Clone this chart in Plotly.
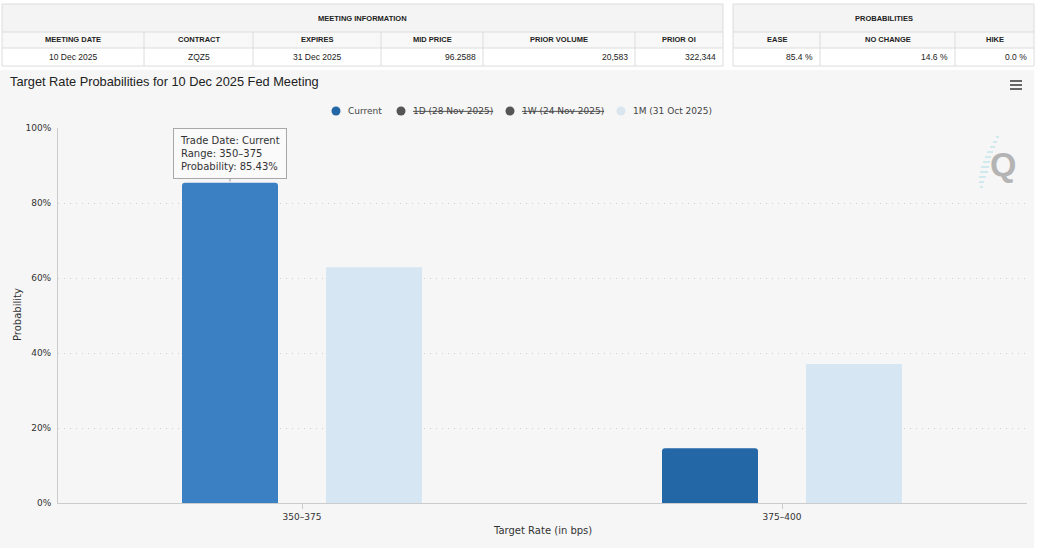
import plotly.graph_objects as go

W, H = 1050, 549

# ---------------- data ----------------
categories = ["350–375", "375–400"]
current_vals = [85.43, 14.57]
month_vals = [62.9, 37.1]
legend_names = ["Current", "1D (28 Nov 2025)", "1W (24 Nov 2025)", "1M (31 Oct 2025)"]
legend_hidden = [False, True, True, False]

meeting_title = "MEETING INFORMATION"
meeting_cols = ["MEETING DATE", "CONTRACT", "EXPIRES", "MID PRICE", "PRIOR VOLUME", "PRIOR OI"]
meeting_vals = ["10 Dec 2025", "ZQZ5", "31 Dec 2025", "96.2588", "20,583", "322,344"]
prob_title = "PROBABILITIES"
prob_cols = ["EASE", "NO CHANGE", "HIKE"]
prob_vals = ["85.4 %", "14.6 %", "0.0 %"]

y_ticks = [0, 20, 40, 60, 80, 100]

# ---------------- styles / layout ----------------
c_current = ["#3b80c3", "#2367a7"]
c_month = "#d6e6f3"
legend_colors = ["#2367a7", "#555555", "#555555", "#d9e5ef"]
legend_sym_x = [336, 401, 510, 621]      # pixel positions of legend symbols
legend_y = 111
bargap = 0.4
bargroupgap = 1 / 3

meeting_edges = [2, 144, 253, 381, 483, 635, 723]
meeting_align = ["center", "center", "center", "right", "right", "right"]
prob_edges = [733, 820, 955, 1034]
prob_align = ["right", "right", "right"]
row_edges = [4, 32, 48, 66]
line_c = "#dcdcdc"
tbl_font = "Liberation Sans, Arial, sans-serif"

plot_left, plot_right, plot_top, plot_bottom = 58, 1027, 128, 503
cat_px = 480  # pixel width of one category band


def px_x(p):
    return p / W


def px_y(p):
    return 1 - p / H


fig = go.Figure()

# chart background
fig.add_shape(type="rect", xref="paper", yref="paper", x0=0, x1=px_x(1034),
              y0=px_y(548), y1=px_y(70), fillcolor="#f6f6f6", line_width=0, layer="below")

fig.add_trace(go.Bar(x=categories, y=current_vals, name="Current", showlegend=False,
                     marker=dict(color=c_current, cornerradius=3, line_width=0),
                     hoverinfo="skip"))
fig.add_trace(go.Bar(x=categories, y=month_vals, name="1M (31 Oct 2025)", showlegend=False,
                     marker=dict(color=c_month, line_width=0), hoverinfo="skip"))


# ---------------- tables ----------------
def draw_table(edges, title, cols, vals, aligns):
    x0, x1 = edges[0], edges[-1]
    r0, r1, r2, r3 = row_edges
    fills = [("#f4f4f4", r0, r1), ("#f8f8f8", r1, r2), ("#ffffff", r2, r3)]
    for col, ya, yb in fills:
        fig.add_shape(type="rect", xref="paper", yref="paper", x0=px_x(x0), x1=px_x(x1),
                      y0=px_y(yb), y1=px_y(ya), fillcolor=col, line_width=0, layer="below")
    for yy in row_edges:
        fig.add_shape(type="line", xref="paper", yref="paper", x0=px_x(x0), x1=px_x(x1),
                      y0=px_y(yy), y1=px_y(yy), line=dict(color=line_c, width=1))
    for i, xx in enumerate(edges):
        top = r0 if i in (0, len(edges) - 1) else r1
        fig.add_shape(type="line", xref="paper", yref="paper", x0=px_x(xx), x1=px_x(xx),
                      y0=px_y(r3), y1=px_y(top), line=dict(color=line_c, width=1))
    fig.add_annotation(xref="paper", yref="paper", x=px_x((x0 + x1) / 2), y=px_y((r0 + r1) / 2 + 1),
                       xanchor="center", yanchor="middle", showarrow=False, text=f"<b>{title}</b>",
                       font=dict(family=tbl_font, size=7.5, color="#222"))
    for i, (c, v, al) in enumerate(zip(cols, vals, aligns)):
        a, b = edges[i], edges[i + 1]
        fig.add_annotation(xref="paper", yref="paper", x=px_x((a + b) / 2), y=px_y((r1 + r2) / 2 - 0.5),
                           xanchor="center", yanchor="middle", showarrow=False, text=f"<b>{c}</b>",
                           font=dict(family=tbl_font, size=7.5, color="#222"))
        if al == "center":
            xv, xa = (a + b) / 2, "center"
        else:
            xv, xa = b - 5, "right"
        fig.add_annotation(xref="paper", yref="paper", x=px_x(xv), y=px_y((r2 + r3) / 2),
                           xanchor=xa, yanchor="middle", showarrow=False, text=v,
                           font=dict(family=tbl_font, size=8.5, color="#222"))


draw_table(meeting_edges, meeting_title, meeting_cols, meeting_vals, meeting_align)
draw_table(prob_edges, prob_title, prob_cols, prob_vals, prob_align)

# ---------------- legend ----------------
for name, col, hid, sx in zip(legend_names, legend_colors, legend_hidden, legend_sym_x):
    fig.add_shape(type="circle", xref="paper", yref="paper", xsizemode="pixel", ysizemode="pixel",
                  xanchor=px_x(sx), yanchor=px_y(legend_y), x0=-4.5, x1=4.5, y0=-4.5, y1=4.5,
                  fillcolor=col, line_width=0)
    label = f"<s>{name}</s>" if hid else name
    fig.add_annotation(xref="paper", yref="paper", x=px_x(sx + 10), y=px_y(legend_y),
                       xanchor="left", yanchor="middle", showarrow=False, text=label,
                       font=dict(family="DejaVu Sans", size=9, color="#444"))

# ---------------- tooltip ----------------
cur_offset = -(1 - bargap) / 4
fig.add_annotation(x=categories.index("350–375") + cur_offset, y=current_vals[0], xref="x", yref="y",
                   text=f"Trade Date: Current<br>Range: {categories[0]}<br>Probability: {current_vals[0]:.2f}%",
                   showarrow=True, arrowhead=0, arrowwidth=1, arrowcolor="#9a9a9a",
                   ax=0, ay=-29, standoff=1, align="left",
                   bgcolor="rgba(250,250,250,0.96)", bordercolor="#a8a8a8", borderwidth=1, borderpad=6,
                   font=dict(family="DejaVu Sans", size=10, color="#333"))

# ---------------- titles ----------------
fig.add_annotation(xref="paper", yref="paper", x=px_x(8), y=px_y(82), xanchor="left", yanchor="middle",
                   text="Target Rate Probabilities for 10 Dec 2025 Fed Meeting", showarrow=False,
                   font=dict(family="Liberation Sans, Arial", size=12.8, color="#222"))
fig.add_annotation(xref="paper", yref="paper", x=px_x(542), y=px_y(530), xanchor="center", yanchor="middle",
                   text="Target Rate (in bps)", showarrow=False,
                   font=dict(family="DejaVu Sans", size=10, color="#333"))
fig.add_annotation(xref="paper", yref="paper", x=px_x(17), y=px_y(315), xanchor="center", yanchor="middle",
                   text="Probability", showarrow=False, textangle=-90,
                   font=dict(family="DejaVu Sans", size=10, color="#333"))

# ---------------- Q watermark ----------------
fig.add_annotation(xref="paper", yref="paper", x=px_x(1003), y=px_y(164), xanchor="center", yanchor="middle",
                   text="<b>Q</b>", showarrow=False,
                   font=dict(family="Liberation Sans, Arial", size=34, color="#b4b4b4"))
for xa, xb, yy in [(996, 999, 137), (993, 997, 142), (990, 995, 147), (987, 993, 152), (985, 991, 157),
                   (983, 990, 162), (981, 989, 167), (980, 988, 172), (979, 986, 177), (979, 984, 182),
                   (980, 983, 187)]:
    fig.add_shape(type="line", xref="paper", yref="paper", x0=px_x(xa), x1=px_x(xb), y0=px_y(yy), y1=px_y(yy),
                  line=dict(color="#c3e4ea", width=1.5))

# ---------------- menu icon ----------------
for yy in (81, 85, 89):
    fig.add_shape(type="line", xref="paper", yref="paper", x0=px_x(1010), x1=px_x(1022), y0=px_y(yy), y1=px_y(yy),
                  line=dict(color="#666666", width=2))

# x range so that category bands are cat_px wide with centres at 302 / 782
x_lo = -0.5 - (62 - plot_left) / cat_px
x_hi = x_lo + (plot_right - plot_left) / cat_px

axis_font = dict(family="DejaVu Sans", size=9, color="#333")
fig.update_layout(
    width=W, height=H,
    margin=dict(l=0, r=0, t=0, b=0, autoexpand=False),
    paper_bgcolor="white", plot_bgcolor="rgba(0,0,0,0)",
    barmode="group", bargap=bargap, bargroupgap=bargroupgap,
    showlegend=False,
    xaxis=dict(domain=[px_x(plot_left), px_x(plot_right)], range=[x_lo, x_hi],
               showline=True, linecolor="#cccccc", linewidth=1,
               ticks="outside", ticklen=5, tickcolor="#cccccc", tickfont=axis_font, automargin=False,
               showgrid=False, fixedrange=True),
    yaxis=dict(domain=[px_y(plot_bottom), px_y(plot_top)], range=[0, 100], tickvals=y_ticks,
               ticktext=[f"{v}%" for v in y_ticks], automargin=False, ticklabelstandoff=4,
               showline=True, linecolor="#cccccc", linewidth=1, tickfont=axis_font,
               showgrid=True, gridcolor="#cfcfcf", griddash="1px,5px", gridwidth=1, zeroline=False,
               fixedrange=True),
    font=dict(family="DejaVu Sans"),
)

fig.write_html("out.html", config={"displayModeBar": False},
               post_script="document.body.style.margin='0';document.body.style.overflow='hidden';")
